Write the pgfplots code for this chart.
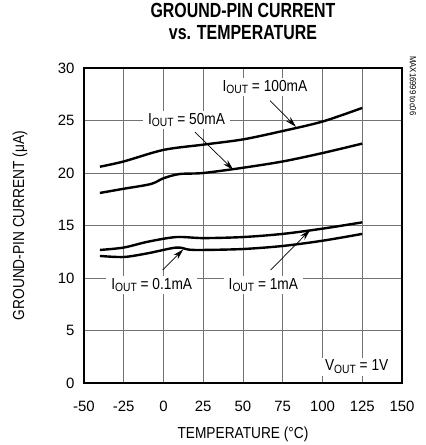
\documentclass[border=0pt]{standalone}
\usepackage{fontspec}
\setmainfont{Liberation Sans}
\usepackage{graphicx}
\usepackage{pgfplots}
\pgfplotsset{compat=1.18}
\usetikzlibrary{arrows.meta}
\newcommand\nar[1]{\scalebox{0.86}[1]{#1}}
\newcommand\out{\raisebox{-0.3ex}{\fontsize{12}{12}\selectfont OUT}}
\newcommand\iout{I\out}
\begin{document}
\begin{tikzpicture}[
  lbl/.style={fill=white, inner xsep=5bp, inner ysep=2bp, font=\fontsize{16}{16}\selectfont},
  arr/.style={line width=0.7bp, -{Stealth[length=11bp,width=6bp]}},
]
\begin{axis}[
  name=ax,
  scale only axis,
  width=318bp, height=315bp,
  xmin=-50, xmax=150, ymin=0, ymax=30,
  xtick distance=25, ytick distance=5,
  grid=major,
  major grid style={line width=0.9bp, draw=black!55},
  major tick length=0pt,
  separate axis lines,
  axis line style={line width=2.4bp, line cap=rect},
  tick label style={font=\fontsize{15}{15}\selectfont},
  /pgf/number format/assume math mode=true,
  xticklabel style={yshift=-15bp},
  yticklabel style={xshift=-6bp},
  xlabel={\nar{TEMPERATURE (°C)}},
  ylabel={\nar{GROUND-PIN CURRENT (μA)}},
  label style={font=\fontsize{16}{16}\selectfont},
  xlabel style={at={(axis description cs:0.5,-0.163)}, anchor=center},
  ylabel style={at={(axis description cs:-0.201,0.5)}, anchor=center},
  title={\scalebox{0.78}[1]{GROUND-PIN CURRENT}\\\scalebox{0.78}[1]{vs. TEMPERATURE}},
  title style={at={(axis description cs:0.5,1)}, anchor=center, yshift=40.5bp,
    align=center, font=\bfseries\fontsize{20.5}{22}\selectfont},
  clip=false,
]
% IOUT = 100mA
\addplot[black, line width=2.4bp, smooth, tension=0.5] coordinates {
  (-40,20.6) (-25,21.1) (0,22.2) (25,22.7) (50,23.2) (75,24.0) (100,24.9) (125,26.2)
};
% IOUT = 50mA
\addplot[black, line width=2.4bp, smooth, tension=0.5] coordinates {
  (-40,18.1) (-25,18.5) (-8,18.95) (0,19.5) (10,19.9) (25,20.0) (50,20.5) (75,21.1) (100,21.9) (125,22.8)
};
% IOUT = 1mA
\addplot[black, line width=2.4bp, smooth, tension=0.5] coordinates {
  (-40,12.67) (-25,12.9) (-10,13.45) (8,13.9) (25,13.8) (50,13.9) (75,14.2) (100,14.7) (125,15.3)
};
% IOUT = 0.1mA
\addplot[black, line width=2.4bp, smooth, tension=0.5] coordinates {
  (-40,12.1) (-25,12.0) (-10,12.35) (8,12.9) (16,12.7) (25,12.67) (50,12.76) (75,13.05) (100,13.55) (125,14.2)
};
\node[lbl] at (axis cs:63.8,28.2) {\nar{\iout{} = 100mA}};
\draw[arr] (axis cs:67,26.9) -- (axis cs:83.3,24.4);
\node[lbl] at (axis cs:14.5,25.05) {\nar{\iout{} = 50mA}};
\draw[arr] (axis cs:19.8,23.9) -- (axis cs:43.9,20.3);
\node[lbl] at (axis cs:-7.4,9.33) {\nar{\iout{} = 0.1mA}};
\draw[arr] (axis cs:-0.5,10.76) -- (axis cs:12.5,12.73);
\node[lbl] at (axis cs:62.8,9.33) {\nar{\iout{} = 1mA}};
\draw[arr] (axis cs:67.4,10.76) -- (axis cs:92.2,14.57);
\node[lbl] at (axis cs:121.5,1.55) {\nar{V\out{} = 1V}};
\node[rotate=-90, font=\fontsize{9}{9}\selectfont, inner sep=0pt]
  at (axis description cs:1.0346,0.943) {\nar{MAX16999 toc06}};
\end{axis}
\pgfresetboundingbox
\path ([shift={(-84bp,-62bp)}]ax.south west) rectangle ([shift={(342bp,383bp)}]ax.south west);
\end{tikzpicture}
\end{document}
